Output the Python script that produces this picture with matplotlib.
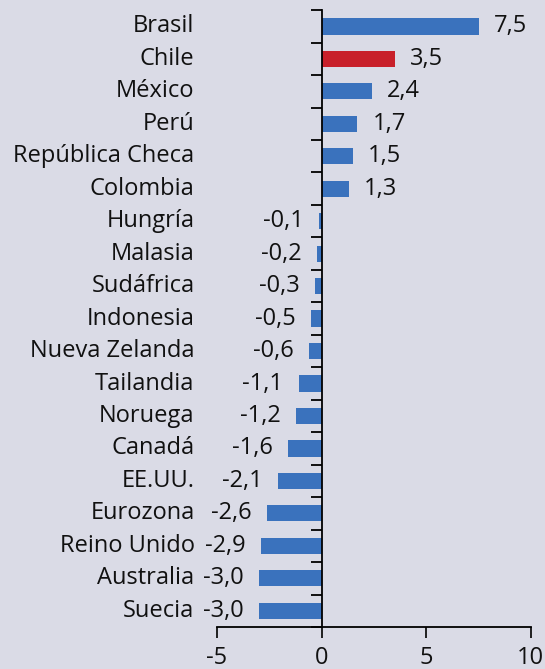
import numpy as np
import matplotlib.pyplot as plt

plt.rcParams['font.family'] = ['Open Sans', 'DejaVu Sans']

# datos (de arriba hacia abajo)
paises = ['Brasil', 'Chile', 'México', 'Perú', 'República Checa', 'Colombia',
          'Hungría', 'Malasia', 'Sudáfrica', 'Indonesia', 'Nueva Zelanda',
          'Tailandia', 'Noruega', 'Canadá', 'EE.UU.', 'Eurozona',
          'Reino Unido', 'Australia', 'Suecia']
valores = [7.5, 3.5, 2.4, 1.7, 1.5, 1.3, -0.1, -0.2, -0.3, -0.5, -0.6,
           -1.1, -1.2, -1.6, -2.1, -2.6, -2.9, -3.0, -3.0]
resaltado = 'Chile'

bg = '#dadbe6'
azul = '#3a72bd'
rojo = '#c8202a'

fig = plt.figure(figsize=(5.45, 6.69), dpi=100, facecolor=bg)
ax = fig.add_axes([0.398, 0.0628, 0.576, 0.922], facecolor=bg)

y = np.arange(len(paises))
colores = [rojo if p == resaltado else azul for p in paises]
ax.barh(y, valores, height=0.5, color=colores, zorder=2)

ax.set_xlim(-5, 10)
ax.set_ylim(len(paises) - 0.5, -0.5)

# eje vertical en cero
for s in ['top', 'right']:
    ax.spines[s].set_visible(False)
ax.spines['left'].set_position(('data', 0))
ax.spines['left'].set_zorder(3)
ax.set_yticks([])
ax.set_yticks(np.arange(len(paises) + 1) - 0.5, minor=True)
ax.tick_params(axis='y', which='minor', length=8, width=1.3, direction='out')
ax.spines['left'].set_linewidth(1.3)
ax.spines['bottom'].set_linewidth(1.3)

ax.set_xticks([-5, 0, 5, 10])
ax.set_xticklabels(['-5', '0', '5', '10'])
ax.tick_params(axis='x', length=8, width=1.3, labelsize=17, pad=6,
               colors='#111111')

fs = 17
for i, (p, v) in enumerate(zip(paises, valores)):
    ax.text(-6.07, i, p, ha='right', va='center', fontsize=fs,
            color='#111111', clip_on=False)
    lbl = f'{v:.1f}'.replace('.', ',')
    if v >= 0:
        ax.annotate(lbl, (v, i), xytext=(11, 0), textcoords='offset points',
                    ha='left', va='center', fontsize=fs, color='#111111')
    else:
        ax.annotate(lbl, (v, i), xytext=(-11, 0), textcoords='offset points',
                    ha='right', va='center', fontsize=fs, color='#111111')

fig.savefig('out.png', dpi=100, facecolor=bg)
